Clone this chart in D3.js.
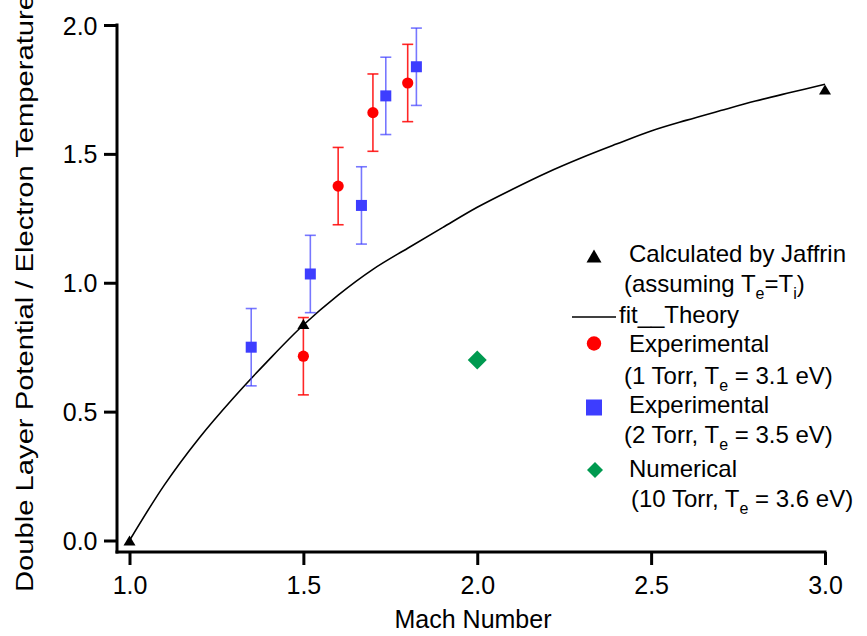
<!DOCTYPE html>
<html>
<head>
<meta charset="utf-8">
<script src="https://cdn.jsdelivr.net/npm/d3@7"></script>
<style>
  html, body { margin: 0; padding: 0; background: #ffffff; }
  svg { display: block; font-family: "Liberation Sans", Arial, Helvetica, sans-serif; }
</style>
</head>
<body>
<svg id="chart" width="867" height="636"></svg>
<script>
// Axis ticks
const xTicks = [1.0, 1.5, 2.0, 2.5, 3.0];
const yTicks = [0.0, 0.5, 1.0, 1.5, 2.0];

// Calculated by Jaffrin (assuming Te = Ti)
const jaffrinMach = [1.0, 1.5, 3.0];
const jaffrinPot  = [0.0, 0.84, 1.75];

// fit__Theory curve
const fitMach = [1.0, 1.1, 1.2, 1.3, 1.4, 1.5, 1.6, 1.7, 1.8, 1.9, 2.0,
                 2.1, 2.2, 2.3, 2.4, 2.5, 2.6, 2.7, 2.8, 2.9, 3.0];
const fitPot  = [0.000, 0.215, 0.397, 0.555, 0.700, 0.836, 0.952, 1.052, 1.134, 1.214, 1.293,
                 1.362, 1.427, 1.485, 1.538, 1.589, 1.630, 1.668, 1.705, 1.738, 1.770];

// Experimental, 1 Torr (Te = 3.1 eV)
const exp1Mach = [1.50, 1.60, 1.70, 1.80];
const exp1Pot  = [0.715, 1.375, 1.660, 1.775];
const exp1Err  = [0.15, 0.15, 0.15, 0.15];

// Experimental, 2 Torr (Te = 3.5 eV)
const exp2Mach = [1.35, 1.52, 1.667, 1.737, 1.825];
const exp2Pot  = [0.750, 1.034, 1.300, 1.725, 1.838];
const exp2Err  = [0.15, 0.15, 0.15, 0.15, 0.15];

// Numerical, 10 Torr (Te = 3.6 eV)
const numMach = [2.0];
const numPot  = [0.70];

const RED = "#ff0000", BLUE = "#3d3dff", GREEN = "#009a50";

const svg = d3.select("#chart");
const x = d3.scaleLinear().domain([1, 3]).range([129.5, 825]);
const y = d3.scaleLinear().domain([0, 2]).range([540.5, 25]);

const fmt = d3.format(".1f");
const xAxisY = 552, yAxisX = 117;

// ---- axes ----
const gx = svg.append("g").attr("transform", `translate(0,${xAxisY})`)
  .call(d3.axisBottom(x).tickValues(xTicks).tickFormat(fmt).tickSize(13).tickSizeOuter(0));
gx.select(".domain").remove();
gx.selectAll(".tick line").attr("stroke", "#000").attr("stroke-width", 3);
gx.selectAll(".tick text").attr("y", 42).attr("dy", 0)
  .attr("font-size", 25).attr("fill", "#000").attr("font-family", null);

const gy = svg.append("g").attr("transform", `translate(${yAxisX},0)`)
  .call(d3.axisLeft(y).tickValues(yTicks).tickFormat(fmt).tickSize(13).tickSizeOuter(0));
gy.select(".domain").remove();
gy.selectAll(".tick line").attr("stroke", "#000").attr("stroke-width", 3);
gy.selectAll(".tick text").attr("x", -19.5).attr("dy", 0).attr("y", 9)
  .attr("font-size", 25).attr("fill", "#000").attr("font-family", null);

// axis lines, standing off from the data area
svg.append("line")
  .attr("x1", yAxisX - 1.5).attr("x2", x(3) + 1.5)
  .attr("y1", xAxisY).attr("y2", xAxisY)
  .attr("stroke", "#000").attr("stroke-width", 3);
svg.append("line")
  .attr("x1", yAxisX).attr("x2", yAxisX)
  .attr("y1", y(2) - 1.5).attr("y2", xAxisY + 1.5)
  .attr("stroke", "#000").attr("stroke-width", 3);

// axis titles
svg.append("text")
  .attr("x", 473).attr("y", 628)
  .attr("text-anchor", "middle").attr("font-size", 25)
  .text("Mach Number");
svg.append("text")
  .attr("transform", "translate(33,592) rotate(-90)")
  .attr("text-anchor", "start").attr("font-size", 23)
  .attr("textLength", 598).attr("lengthAdjust", "spacingAndGlyphs")
  .text("Double Layer Potential / Electron Temperature");

// ---- marker shapes ----
const triPath = (cx, cy, w, h) =>
  `M${cx - w / 2},${cy + h / 2}L${cx + w / 2},${cy + h / 2}L${cx},${cy - h / 2}Z`;
const diamondPath = (cx, cy, s) =>
  `M${cx},${cy - s / 2}L${cx + s / 2},${cy}L${cx},${cy + s / 2}L${cx - s / 2},${cy}Z`;

// ---- fit curve ----
const line = d3.line()
  .x((d, i) => x(fitMach[i]))
  .y(d => y(d))
  .curve(d3.curveCatmullRom.alpha(0.5));
svg.append("path")
  .attr("d", line(fitPot))
  .attr("fill", "none").attr("stroke", "#000").attr("stroke-width", 1.6);

// ---- error bars ----
function errorBars(mach, pot, err, color, opacity) {
  const g = svg.append("g").attr("stroke", color).attr("stroke-width", 1.6)
    .attr("stroke-opacity", opacity).attr("fill", "none");
  pot.forEach((v, i) => {
    const cx = x(mach[i]);
    const t = y(v + err[i]), b = y(v - err[i]);
    g.append("line").attr("x1", cx).attr("x2", cx).attr("y1", t).attr("y2", b);
    g.append("line").attr("x1", cx - 5.5).attr("x2", cx + 5.5).attr("y1", t).attr("y2", t);
    g.append("line").attr("x1", cx - 5.5).attr("x2", cx + 5.5).attr("y1", b).attr("y2", b);
  });
}
errorBars(exp1Mach, exp1Pot, exp1Err, RED, 0.85);
errorBars(exp2Mach, exp2Pot, exp2Err, BLUE, 0.7);

// ---- markers ----
svg.append("g").selectAll("circle").data(exp1Pot).join("circle")
  .attr("cx", (d, i) => x(exp1Mach[i])).attr("cy", d => y(d))
  .attr("r", 5.6).attr("fill", RED);

svg.append("g").selectAll("rect").data(exp2Pot).join("rect")
  .attr("x", (d, i) => x(exp2Mach[i]) - 5.5).attr("y", d => y(d) - 5.5)
  .attr("width", 11).attr("height", 11).attr("fill", BLUE);

svg.append("g").selectAll("path").data(numPot).join("path")
  .attr("d", (d, i) => diamondPath(x(numMach[i]), y(d), 19))
  .attr("fill", GREEN);

svg.append("g").selectAll("path").data(jaffrinPot).join("path")
  .attr("d", (d, i) => triPath(x(jaffrinMach[i]), y(d), 12, 10))
  .attr("fill", "#000");

// ---- legend ----
const leg = svg.append("g").attr("font-size", 24).attr("fill", "#000");

// text line with optional subscripts: parts are strings or {sub: "..."}
function richLine(xPos, yPos, parts) {
  const t = leg.append("text").attr("x", xPos).attr("y", yPos);
  let shift = 0;
  parts.forEach(p => {
    if (typeof p === "string") {
      t.append("tspan").attr("dy", -shift).text(p);
      shift = 0;
    } else {
      t.append("tspan").attr("font-size", 16).attr("dy", 7 - shift).text(p.sub);
      shift = 7;
    }
  });
  return t;
}

leg.append("path").attr("d", triPath(594, 256, 15, 13)).attr("fill", "#000");
richLine(629, 262, ["Calculated by Jaffrin"]);
richLine(624, 292, ["(assuming T", {sub: "e"}, "=T", {sub: "i"}, ")"]);

leg.append("line").attr("x1", 572).attr("x2", 616).attr("y1", 317).attr("y2", 317)
  .attr("stroke", "#000").attr("stroke-width", 1.6);
richLine(619, 323, ["fit__Theory"]);

leg.append("circle").attr("cx", 594).attr("cy", 343.5).attr("r", 7.2).attr("fill", RED);
richLine(629, 352, ["Experimental"]);
richLine(624, 384, ["(1 Torr, T", {sub: "e"}, " = 3.1 eV)"]);

leg.append("rect").attr("x", 586).attr("y", 399.5).attr("width", 16).attr("height", 16).attr("fill", BLUE);
richLine(629, 413, ["Experimental"]);
richLine(624, 443, ["(2 Torr, T", {sub: "e"}, " = 3.5 eV)"]);

leg.append("path").attr("d", diamondPath(595, 470, 16)).attr("fill", GREEN);
richLine(629, 477, ["Numerical"]);
richLine(631, 507, ["(10 Torr, T", {sub: "e"}, " = 3.6 eV)"]);
</script>
</body>
</html>
